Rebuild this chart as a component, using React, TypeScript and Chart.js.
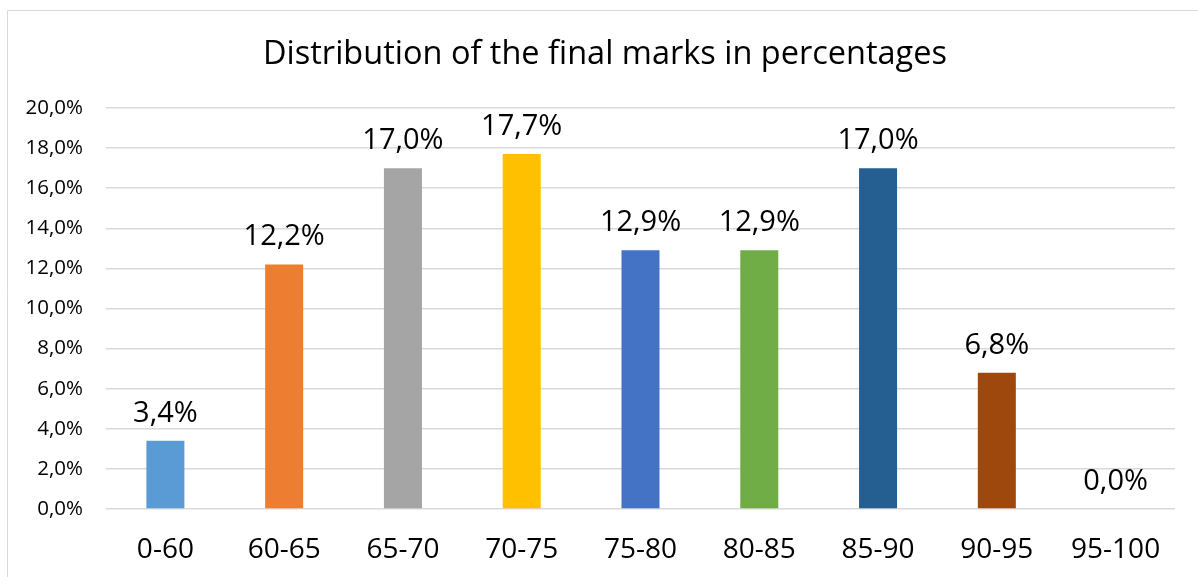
import React, { useEffect, useRef } from "react";
import { Chart, registerables } from "chart.js";

Chart.register(...registerables);

const categories = ["0-60", "60-65", "65-70", "70-75", "75-80", "80-85", "85-90", "90-95", "95-100"];
const values = [3.4, 12.2, 17.0, 17.7, 12.9, 12.9, 17.0, 6.8, 0.0];
const barColors = ["#5B9BD5", "#ED7D31", "#A5A5A5", "#FFC000", "#4472C4", "#70AD47", "#255E91", "#9E480E", "#636363"];
const titleText = "Distribution of the final marks in percentages";

const FONT = "'Open Sans', 'Noto Sans', sans-serif";

const fmt = (v: number) => v.toFixed(1).replace(".", ",") + "%";

const frameAndLabels = {
  id: "frameAndLabels",
  beforeDraw(chart: any) {
    const ctx = chart.ctx;
    ctx.save();
    ctx.fillStyle = "#ffffff";
    ctx.fillRect(0, 0, chart.width, chart.height);
    ctx.strokeStyle = "#d9d9d9";
    ctx.lineWidth = 1;
    ctx.beginPath();
    ctx.moveTo(7.5, chart.height);
    ctx.lineTo(7.5, 10.5);
    ctx.lineTo(chart.width, 10.5);
    ctx.stroke();
    ctx.fillStyle = "#000000";
    ctx.font = `32.5px ${FONT}`;
    ctx.textAlign = "center";
    ctx.textBaseline = "middle";
    ctx.fillText(titleText, 605, 55);
    ctx.restore();
  },
  afterDatasetsDraw(chart: any) {
    const ctx = chart.ctx;
    const meta = chart.getDatasetMeta(0);
    ctx.save();
    ctx.fillStyle = "#000000";
    ctx.font = `29px ${FONT}`;
    ctx.textAlign = "center";
    ctx.textBaseline = "alphabetic";
    meta.data.forEach((bar: any, i: number) => {
      ctx.fillText(fmt(values[i]), bar.x, bar.y - 19);
    });
    ctx.restore();
  },
};

export default function App() {
  const ref = useRef<HTMLCanvasElement | null>(null);
  useEffect(() => {
    document.body.style.margin = "0";
    const chart = new Chart(ref.current as HTMLCanvasElement, {
      type: "bar",
      data: {
        labels: categories,
        datasets: [
          {
            data: values,
            backgroundColor: barColors,
            barPercentage: 0.64,
            categoryPercentage: 0.5,
          },
        ],
      },
      options: {
        animation: false,
        responsive: false,
        maintainAspectRatio: false,
        layout: { padding: { left: 18, right: 23, top: 108, bottom: 0 } },
        plugins: {
          legend: { display: false },
          tooltip: { enabled: false },
          title: { display: false },
        },
        scales: {
          x: {
            grid: { display: false, drawTicks: false },
            border: { display: false },
            ticks: { color: "#000000", font: { family: FONT, size: 28 }, padding: 24, maxRotation: 0, autoSkip: false },
            afterFit: (scale: any) => {
              scale.height = 68;
            },
          },
          y: {
            min: 0,
            max: 20,
            grid: { color: "#d9d9d9", lineWidth: 1.5, drawTicks: false },
            border: { display: false },
            ticks: {
              stepSize: 2,
              color: "#000000",
              font: { family: FONT, size: 20.5 },
              padding: 23,
              callback: (v: any) => fmt(Number(v)),
            },
            afterFit: (scale: any) => {
              scale.width = 88;
            },
          },
        },
      },
      plugins: [frameAndLabels],
    });
    return () => chart.destroy();
  }, []);
  return (
    <div style={{ position: "fixed", left: 0, top: 0, width: 1198, height: 577 }}>
      <canvas ref={ref} width={1198} height={577} style={{ width: 1198, height: 577, display: "block" }} />
    </div>
  );
}
